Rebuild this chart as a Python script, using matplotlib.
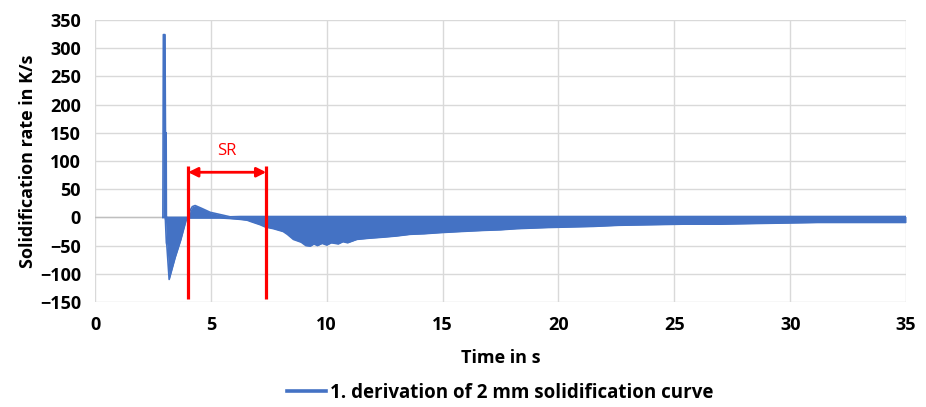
import matplotlib
matplotlib.use('Agg')
import matplotlib.pyplot as plt
from matplotlib.lines import Line2D

# values (envelope of the dense derivative signal)
time = [2.93, 2.95, 3.02, 3.04, 3.07, 3.08, 3.1, 3.2, 3.46, 3.7, 3.93, 4.02,
        4.1, 4.2, 4.32, 4.6, 4.97, 5.4, 5.83, 6.27, 6.57, 6.7, 7.13, 7.35, 7.7,
        8.12, 8.3, 8.56, 8.9, 9.1, 9.29, 9.45, 9.6, 9.8, 10.0, 10.2, 10.5, 10.7,
        10.9, 11.3, 11.8, 12.45, 13.0, 13.6, 14.2, 14.9, 15.8, 16.8, 17.5, 18.2,
        19.5, 20.5, 21.5, 22.6, 24.0, 25.4, 27.0, 28.3, 29.8, 31.2, 33.0, 35]
upper = [0, 324, 324, 150, 150, 0, 0, 0, 0, 0, 0, 0,
         12, 19, 21, 16, 9, 5, 1, 1.5, 1.5, 1.5, 1.5, 1.5, 1.5,
         1.5, 1.5, 1.5, 1.5, 1.5, 1.5, 1.5, 1.5, 1.5, 1.5, 1.5, 1.5, 1.5,
         1.5, 1.5, 1.5, 1.5, 1.5, 1.5, 1.5, 1.5, 1.5, 1.5, 1.5, 1.5,
         1.5, 1.5, 1.5, 1.5, 1.5, 1.5, 1.5, 1.5, 1.5, 1.5, 1.5, 1.5]
lower = [0, 0, 0, -5, -35, -45, -49, -110, -71, -40, -5, -1,
         -1, -1, -1, -1, -1, -1, -2, -3.5, -5, -7, -13, -17, -20,
         -25, -30, -39, -44, -50, -51, -47, -50, -46, -49, -45, -47, -43,
         -45, -39, -37, -35, -33, -30, -29, -27, -25, -23, -22, -20,
         -18, -17, -16, -14, -13, -12, -12, -11, -10, -9, -9, -9]

sr_start = 4.02
sr_end = 7.39
sr_label = 'SR'
series_label = '1. derivation of 2 mm solidification curve'

xticks = [0, 5, 10, 15, 20, 25, 30, 35]
yticks = [-150, -100, -50, 0, 50, 100, 150, 200, 250, 300, 350]

blue = '#4472C4'
plt.rcParams['font.family'] = ['Open Sans', 'DejaVu Sans']

fig = plt.figure(figsize=(9.26, 4.07), dpi=100)
ax = fig.add_axes([0.1026, 0.258, 0.8758, 0.693])

ax.fill_between(time, lower, upper, color=blue, lw=0, zorder=3)
ax.plot(time, upper, color=blue, lw=1.2, zorder=3)
ax.plot(time, lower, color=blue, lw=1.2, zorder=3)

# solidification range markers
ax.vlines([sr_start, sr_end], -145, 91, color='red', lw=2.3, zorder=4)
ax.annotate('', xy=(sr_start, 80), xytext=(sr_end, 80),
            arrowprops=dict(arrowstyle='<|-|>', color='red', lw=2,
                            mutation_scale=14, shrinkA=0, shrinkB=0), zorder=4)
ax.text((sr_start + sr_end) / 2, 104, sr_label, color='red', fontsize=12,
        ha='center', va='bottom', zorder=4)

ax.set_xlim(0, 35)
ax.set_ylim(-150, 350)
ax.set_xticks(xticks)
ax.set_yticks(yticks)
ax.grid(True, color='#D9D9D9', lw=1)
ax.set_axisbelow(True)
ax.axhline(0, color='#BFBFBF', lw=1, zorder=2)
for s in ax.spines.values():
    s.set_visible(False)
ax.tick_params(length=0, labelsize=13, pad=10)
for lab in ax.get_xticklabels() + ax.get_yticklabels():
    lab.set_fontweight('bold')

ax.set_xlabel('Time in s', fontsize=13, fontweight='bold', labelpad=11)
ax.set_ylabel('Solidification rate in K/s', fontsize=13, fontweight='bold', labelpad=2)

handle = Line2D([], [], color=blue, lw=2.6)
fig.legend([handle], [series_label], loc='center', bbox_to_anchor=(0.54, 0.035),
           frameon=False, prop={'size': 13.5, 'weight': 'bold'}, handlelength=2.1,
           handletextpad=0.2, borderpad=0.2)

fig.savefig('out.png', dpi=100)
